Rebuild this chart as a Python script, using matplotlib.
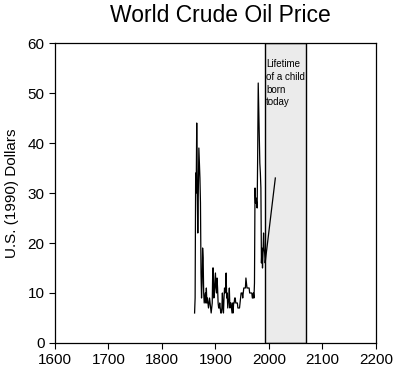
import matplotlib
matplotlib.use("Agg")
import matplotlib.pyplot as plt

plt.rcParams['font.family'] = ['Liberation Sans', 'DejaVu Sans']

# ---- data (1990 US dollars per barrel) ----
years = list(range(1861, 1995)) + [2012]
price = [6, 9, 34, 30, 44, 31, 22, 30, 39, 36,
         33, 28, 14, 9, 12, 19, 17, 10, 8, 9,
         10, 8, 11, 8, 9, 8, 7, 8, 9, 8,
         7, 6, 7, 8, 15, 15, 9, 10, 12, 14,
         11, 10, 13, 11, 8, 7, 7, 8, 7, 6,
         6, 7, 10, 7, 6, 9, 11, 10, 11, 14,
         9, 10, 7, 8, 9, 11, 7, 8, 8, 7,
         6, 8, 6, 8, 8, 9, 9, 8, 8, 8,
         8, 7, 7, 7, 7, 8, 9, 10, 10, 10,
         9, 10, 11, 11, 11, 11, 13, 12, 11, 11,
         11, 11, 11, 10, 10, 10, 10, 10, 9, 9,
         10, 9, 12, 31, 28, 29, 28, 27, 38, 52,
         47, 41, 36, 34, 31, 16, 19, 15, 18, 22,
         19, 18, 16, 17, 33]

lifetime = (1993, 2069)
lifetime_label = "Lifetime\nof a child\nborn\ntoday"

fig = plt.figure(figsize=(4.09, 3.79), dpi=100)
ax = fig.add_axes([0.1345, 0.095, 0.7845, 0.7915])

ax.axvspan(lifetime[0], lifetime[1], ymin=0, ymax=1, facecolor='#ebebeb',
           edgecolor='black', linewidth=1.0, zorder=1)
ax.plot(years, price, color='black', linewidth=0.9, zorder=2)
ax.text(lifetime[0] + 1.5, 56.8, lifetime_label, fontsize=7, va='top',
        ha='left', linespacing=1.35, zorder=3)

ax.set_xlim(1600, 2200)
ax.set_ylim(0, 60)
ax.set_xticks(range(1600, 2201, 100))
ax.set_yticks(range(0, 61, 10))
ax.tick_params(direction='out', length=4, width=0.8, labelsize=11,
               colors='black')
for s in ax.spines.values():
    s.set_linewidth(0.9)

ax.set_ylabel("U.S. (1990) Dollars", fontsize=11, labelpad=6)
fig.suptitle("World Crude Oil Price", fontsize=16.5, x=0.54, y=0.99)

fig.savefig("out.png", dpi=100)
